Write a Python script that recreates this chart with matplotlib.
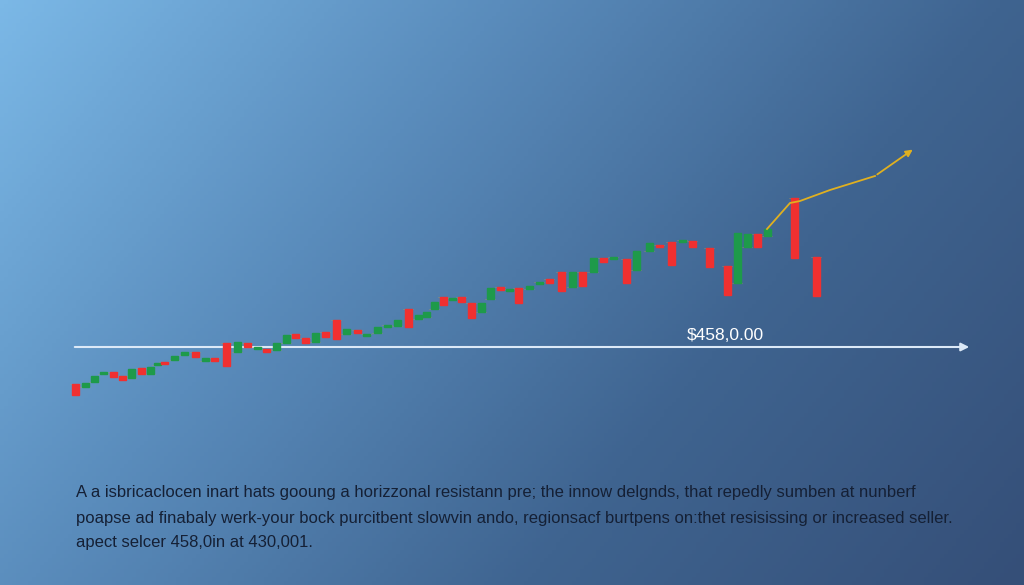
import numpy as np
import matplotlib.pyplot as plt
from matplotlib.colors import LinearSegmentedColormap

# Candle positions (pixel space, y grows downward)
candle_x = [75, 85, 94, 103, 113, 122, 131, 141, 150, 157, 164, 174, 184, 195, 205, 214,
            226, 237, 247, 257, 266, 276, 286, 295, 305, 315, 325, 336, 346, 357, 366, 377,
            387, 397, 408, 418, 426, 434, 443, 452, 461, 471, 481, 490, 500, 509, 518, 529,
            539, 549, 561, 572, 582, 593, 603, 613, 626, 636, 649, 659, 671, 682, 692, 709,
            727, 737, 747, 757, 767, 794, 816]
candle_open = [384, 387, 382, 374, 372, 376, 378, 368, 374, 365, 362, 360, 355, 352, 361, 358,
               343, 352, 343, 347, 349, 350, 343, 334, 338, 342, 332, 320, 334, 330, 334, 333,
               325, 326, 309, 319, 317, 309, 297, 298, 297, 303, 312, 299, 287, 289, 288, 289,
               282, 279, 272, 287, 272, 272, 258, 257, 259, 270, 251, 245, 242, 240, 241, 248,
               266, 283, 247, 234, 236, 198, 257]
candle_close = [395, 383, 376, 372, 377, 380, 369, 374, 367, 363, 364, 356, 352, 357, 358, 361,
                366, 342, 347, 347, 352, 343, 335, 338, 343, 333, 337, 339, 329, 333, 334, 327,
                325, 320, 327, 315, 312, 302, 305, 298, 302, 318, 303, 288, 290, 289, 303, 286,
                282, 283, 291, 272, 286, 258, 262, 257, 283, 251, 243, 247, 265, 240, 247, 267,
                295, 233, 234, 247, 229, 258, 296]

trend_x = [767, 790, 800, 830, 875, 915]
trend_y = [229, 203, 201, 190, 176, 148]

level_y = 347
level_label = "$458,0.00"
caption = ["A a isbricaclocen inart hats gooung a horizzonal resistann pre; the innow delgnds, that repedly sumben at nunberf",
           "poapse ad finabaly werk-your bock purcitbent slowvin ando, regionsacf burtpens on:thet resisissing or increased seller.",
           "apect selcer 458,0in at 430,001."]

fig = plt.figure(figsize=(10.24, 5.85), dpi=100)
ax = fig.add_axes([0, 0, 1, 1])
ax.set_xlim(0, 1024)
ax.set_ylim(585, 0)
ax.axis('off')

# Diagonal background gradient
gx, gy = np.meshgrid(np.linspace(0, 1, 256), np.linspace(0, 1, 150))
grad = 0.75 * gx + 0.35 * gy
cmap = LinearSegmentedColormap.from_list('bg', ['#7bb8e6', '#5a8cbc', '#3f6490', '#354f78'])
ax.imshow(grad, cmap=cmap, extent=[0, 1024, 585, 0], aspect='auto', zorder=0)

# Resistance line with arrow
ax.annotate('', xy=(972, level_y), xytext=(72, level_y),
            arrowprops=dict(arrowstyle='-|>', color='#dce9f7', lw=1.5, mutation_scale=12), zorder=2)
ax.text(725, level_y - 11, level_label, color='white', fontsize=12.5, ha='center', va='center',
        family='Liberation Sans', zorder=3)

# Candles
for x, o, c in zip(candle_x, candle_open, candle_close):
    color = '#f03030' if c > o else '#1e9a4a'
    h = max(abs(c - o), 2)
    ax.add_patch(plt.Rectangle((x - 3.5, min(o, c)), 7, h, color=color, zorder=4))
    ax.plot([x - 5, x + 5], [o, o], color='#c9a640', lw=0.4, alpha=0.6, zorder=3)

# Projection line
ax.plot(trend_x[:-1], trend_y[:-1], color='#e0b020', lw=1.3, zorder=5)
ax.annotate('', xy=(trend_x[-1], trend_y[-1]), xytext=(trend_x[-2], trend_y[-2]),
            arrowprops=dict(arrowstyle='-|>', color='#e0b020', lw=1.3, mutation_scale=10), zorder=5)

# Caption
for i, line in enumerate(caption):
    ax.text(76, 493 + i * 25, line, color='#152035', fontsize=12, ha='left', va='center',
            family='Liberation Sans')

fig.savefig('out.png', dpi=100)
